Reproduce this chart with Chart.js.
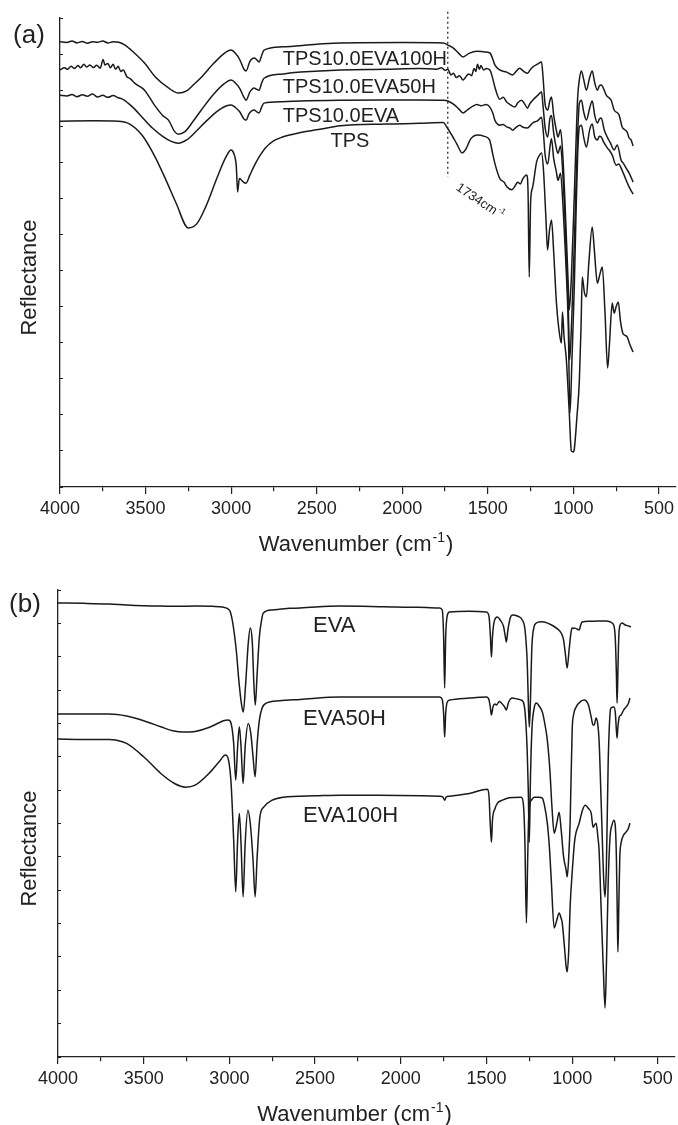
<!DOCTYPE html>
<html>
<head>
<meta charset="utf-8">
<script src="https://cdn.jsdelivr.net/npm/chart.js@4.4.1/dist/chart.umd.min.js"></script>
<style>
    html, body { margin: 0; padding: 0; background: #fff; }
    .painel { position: relative; width: 678px; }
    #painel-a { height: 560px; }
    #painel-b { height: 565px; }
</style>
</head>
<body>
<div class="painel" id="painel-a"><canvas id="grafico-a"></canvas></div>
<div class="painel" id="painel-b"><canvas id="grafico-b"></canvas></div>
<script>
// eixo x (numero de onda, cm-1)
const ondaTicks = [4000, 3750, 3500, 3250, 3000, 2750, 2500, 2250, 2000, 1750, 1500, 1250, 1000, 750, 500];
const rotulosX = ['4000', '3500', '3000', '2500', '2000', '1500', '1000', '500'];

// painel (a): [numero de onda, reflectancia (u.a.)]
const tps10Eva100hA = [
    [4000,12.34],[3960,12.32],[3930,12.36],[3900,12.31],[3870,12.35],[3840,12.30],[3810,12.34],[3780,12.33],[3750,12.36],[3720,12.31],[3690,12.34],[3657,12.33],
    [3620,12.25],[3570,12.05],[3506,11.75],[3440,11.35],[3366,11.06],[3308,10.92],[3260,10.98],[3220,11.15],[3174,11.36],[3100,11.75],[3040,12.02],[3000,12.11],
    [2975,12.02],[2950,11.85],[2925,11.58],[2913,11.53],[2890,11.80],[2866,11.89],[2850,11.84],[2837,11.78],[2820,11.98],[2808,12.11],[2700,12.20],[2500,12.27],
    [2360,12.31],[2000,12.32],[1760,12.31],[1734,12.25],[1703,12.17],[1670,12.02],[1645,11.92],[1610,12.02],[1564,12.08],[1520,12.06],[1488,12.03],[1470,11.85],
    [1459,11.70],[1430,11.56],[1390,11.50],[1355,11.42],[1335,11.52],[1314,11.61],[1290,11.52],[1268,11.47],[1250,11.58],[1238,11.64],[1210,11.72],[1186,11.78],
    [1178,11.40],[1165,10.60],[1150,10.45],[1138,10.70],[1128,10.81],[1115,10.30],[1100,9.90],[1090,9.70],[1075,9.90],[1062,9.20],[1050,8.00],[1040,6.80],
    [1030,5.60],[1024,4.91],[1012,5.80],[998,7.60],[985,9.50],[975,10.80],[965,11.30],[953,11.53],[940,11.30],[924,11.00],[905,11.35],[890,11.53],[875,11.20],
    [860,11.00],[848,11.12],[837,11.14],[820,11.00],[808,10.86],[790,10.78],[779,10.72],[762,10.45],[745,10.38],[733,10.31],[715,9.98],[700,9.90],[686,9.84],
    [675,9.68],[663,9.62],[651,9.45]
];
const tps10Eva50hA = [
    [4000,11.56],[3975,11.62],[3955,11.58],[3935,11.66],[3915,11.60],[3895,11.68],[3880,11.62],[3860,11.72],[3845,11.64],[3825,11.70],[3805,11.63],[3785,11.69],
    [3765,11.61],[3748,11.85],[3738,11.70],[3720,11.74],[3705,11.62],[3690,11.72],[3675,11.58],[3660,11.66],[3645,11.52],[3630,11.56],[3610,11.38],[3590,11.32],
    [3560,11.18],[3506,11.00],[3450,10.60],[3400,10.30],[3366,10.17],[3330,9.85],[3308,9.78],[3270,9.85],[3220,10.15],[3174,10.45],[3100,10.90],[3040,11.18],
    [3000,11.28],[2975,11.20],[2950,11.05],[2925,10.80],[2913,10.72],[2890,10.95],[2866,11.06],[2850,11.02],[2837,11.00],[2820,11.22],[2808,11.33],[2700,11.45],
    [2593,11.50],[2360,11.56],[2100,11.58],[1900,11.60],[1800,11.58],[1770,11.62],[1750,11.55],[1734,11.58],[1715,11.42],[1700,11.47],[1685,11.35],[1665,11.40],
    [1645,11.28],[1630,11.36],[1612,11.45],[1595,11.40],[1580,11.60],[1570,11.52],[1560,11.72],[1550,11.58],[1540,11.68],[1525,11.56],[1510,11.60],[1488,11.56],
    [1470,11.30],[1459,11.09],[1430,10.75],[1410,10.80],[1390,10.67],[1370,10.60],[1343,10.53],[1325,10.65],[1303,10.72],[1285,10.62],[1268,10.50],[1255,10.62],
    [1238,10.72],[1210,10.85],[1186,10.95],[1178,10.60],[1165,9.95],[1150,9.70],[1138,10.20],[1128,10.30],[1115,9.80],[1100,9.40],[1090,9.25],[1075,9.45],
    [1062,8.70],[1050,7.50],[1040,6.20],[1030,5.00],[1022,3.52],[1010,4.60],[995,6.70],[985,8.30],[975,9.80],[965,10.64],[953,10.72],[940,10.40],[924,10.17],
    [905,10.50],[890,10.70],[875,10.30],[860,10.09],[848,10.20],[837,10.23],[820,9.90],[802,9.70],[785,9.55],[762,9.34],[744,9.48],[721,9.06],[705,8.95],
    [692,8.84],[674,8.70],[651,8.45]
];
const tps10EvaA = [
    [4000,10.86],[3960,10.84],[3930,10.88],[3900,10.82],[3870,10.87],[3840,10.83],[3810,10.89],[3780,10.81],[3750,10.86],[3720,10.80],[3690,10.85],[3660,10.79],
    [3630,10.74],[3580,10.55],[3520,10.25],[3460,9.95],[3400,9.72],[3350,9.58],[3308,9.53],[3260,9.62],[3200,9.88],[3150,10.12],[3080,10.42],[3030,10.56],
    [3000,10.59],[2975,10.52],[2950,10.40],[2925,10.20],[2913,10.17],[2895,10.35],[2866,10.45],[2850,10.40],[2837,10.37],[2820,10.55],[2808,10.64],[2700,10.68],
    [2593,10.70],[2360,10.72],[2100,10.73],[1900,10.73],[1760,10.72],[1734,10.70],[1703,10.62],[1670,10.48],[1645,10.37],[1620,10.45],[1590,10.55],[1564,10.60],
    [1540,10.57],[1510,10.60],[1488,10.53],[1470,10.35],[1459,10.17],[1430,10.03],[1410,10.05],[1390,9.98],[1370,9.95],[1355,9.89],[1335,9.97],[1314,10.03],
    [1295,9.97],[1268,9.95],[1250,10.03],[1238,10.09],[1210,10.15],[1186,10.25],[1175,9.80],[1165,9.20],[1150,8.95],[1135,9.50],[1128,9.65],[1115,9.10],
    [1100,8.75],[1090,8.50],[1075,8.70],[1062,7.90],[1050,6.80],[1040,5.80],[1030,4.50],[1020,2.05],[1008,3.60],[995,5.50],[985,7.50],[975,9.20],[965,9.98],
    [953,10.03],[940,9.70],[924,9.42],[905,9.90],[890,10.06],[875,9.70],[860,9.62],[848,9.72],[837,9.70],[822,9.55],[802,9.40],[785,9.30],[773,9.20],
    [750,8.92],[735,8.95],[721,8.84],[692,8.51],[674,8.31],[651,8.12]
];
const tpsA = [
    [4000,10.14],[3800,10.15],[3660,10.14],[3600,10.08],[3520,9.75],[3450,9.20],[3380,8.50],[3320,7.85],[3250,7.18],[3200,7.30],[3150,7.75],[3080,8.60],
    [3030,9.15],[3000,9.34],[2985,9.25],[2970,8.90],[2962,8.18],[2952,8.55],[2940,8.51],[2928,8.45],[2913,8.42],[2890,8.65],[2860,8.95],[2830,9.20],[2800,9.40],
    [2750,9.60],[2700,9.70],[2600,9.82],[2500,9.90],[2360,10.01],[2100,10.06],[1900,10.08],[1760,10.10],[1740,9.98],[1710,9.75],[1680,9.50],[1650,9.26],
    [1630,9.35],[1600,9.65],[1560,9.76],[1520,9.72],[1490,9.62],[1470,9.20],[1455,8.90],[1430,8.55],[1405,8.45],[1390,8.33],[1360,8.24],[1340,8.35],[1326,8.45],
    [1310,8.40],[1295,8.55],[1273,8.65],[1265,8.20],[1258,5.82],[1250,7.90],[1238,8.31],[1215,9.01],[1195,9.22],[1186,9.26],[1175,8.80],[1160,7.40],[1151,6.57],
    [1140,7.10],[1128,7.40],[1115,6.50],[1099,5.10],[1080,4.20],[1070,3.99],[1064,4.85],[1055,4.20],[1041,3.52],[1030,2.60],[1024,2.05],[1012,1.00],[1000,0.97],
    [994,1.08],[980,1.90],[965,2.97],[955,4.50],[948,5.82],[936,5.40],[924,5.27],[910,6.20],[890,7.21],[878,6.60],[860,5.65],[845,5.90],[831,6.10],[815,4.80],
    [800,3.30],[790,3.90],[773,5.10],[762,4.82],[750,5.00],[738,5.13],[725,4.60],[710,4.25],[700,4.21],[686,4.16],[670,3.95],[651,3.74]
];
const linha1734 = [[1734, 13.17], [1734, 8.59]];

// painel (b)
const evaB = [
    [4000,13.61],[3850,13.60],[3700,13.58],[3600,13.55],[3500,13.53],[3400,13.52],[3300,13.51],[3200,13.52],[3100,13.51],[3040,13.49],[3010,13.44],[2995,13.35],
    [2980,13.00],[2960,12.20],[2945,11.30],[2930,10.60],[2919,10.34],[2905,11.20],[2890,12.40],[2878,12.86],[2866,12.40],[2858,11.30],[2849,10.55],[2838,11.50],
    [2825,12.60],[2812,13.10],[2802,13.31],[2750,13.40],[2650,13.45],[2587,13.46],[2355,13.52],[2100,13.50],[1900,13.48],[1773,13.46],[1758,13.40],[1750,12.60],
    [1744,11.06],[1738,12.60],[1728,13.25],[1715,13.34],[1600,13.36],[1500,13.34],[1485,13.20],[1477,12.60],[1471,11.99],[1465,12.60],[1455,13.05],[1436,13.19],
    [1420,13.10],[1400,12.90],[1390,12.60],[1384,12.44],[1375,12.80],[1360,13.18],[1349,13.25],[1320,13.22],[1291,13.10],[1275,12.80],[1262,11.80],[1255,10.50],
    [1250,9.89],[1244,10.60],[1235,12.30],[1222,12.90],[1209,13.01],[1185,13.05],[1163,13.04],[1120,12.95],[1090,12.85],[1064,12.71],[1050,12.50],[1040,12.10],
    [1029,11.66],[1018,12.20],[1006,12.75],[1000,12.86],[980,12.85],[959,12.80],[950,12.95],[942,13.04],[900,13.06],[850,13.07],[802,13.07],[780,13.05],
    [767,13.01],[755,12.90],[748,12.50],[742,11.50],[738,10.61],[733,11.60],[728,12.60],[720,12.95],[709,13.01],[690,12.95],[670,12.92],[657,12.89]
];
const eva50hB = [
    [4000,10.28],[3850,10.28],[3700,10.28],[3600,10.22],[3500,10.08],[3400,9.90],[3330,9.78],[3267,9.74],[3200,9.76],[3120,9.88],[3060,10.02],[3035,10.08],
    [3006,10.10],[2990,10.00],[2975,9.40],[2963,8.30],[2952,9.30],[2942,9.90],[2932,9.30],[2920,8.20],[2908,9.30],[2890,10.00],[2875,9.70],[2862,9.00],[2850,8.40],
    [2838,9.40],[2825,10.10],[2810,10.45],[2785,10.61],[2709,10.68],[2587,10.72],[2355,10.79],[2000,10.79],[1773,10.79],[1758,10.72],[1750,10.30],[1744,9.59],
    [1738,10.30],[1728,10.65],[1715,10.70],[1600,10.76],[1500,10.79],[1485,10.70],[1478,10.50],[1471,10.25],[1462,10.50],[1450,10.58],[1442,10.55],[1425,10.66],
    [1413,10.61],[1395,10.50],[1384,10.40],[1372,10.62],[1349,10.76],[1320,10.73],[1297,10.70],[1280,10.55],[1270,10.00],[1262,9.11],[1256,8.00],[1250,6.44],
    [1244,8.20],[1235,9.80],[1222,10.45],[1209,10.61],[1190,10.50],[1174,10.34],[1160,10.00],[1145,9.50],[1130,8.60],[1118,7.50],[1105,6.71],[1090,7.00],
    [1076,7.34],[1064,6.80],[1050,6.00],[1035,5.60],[1029,5.40],[1020,6.00],[1012,7.00],[1000,9.80],[990,10.30],[977,10.49],[950,10.66],[930,10.70],[905,10.55],
    [889,10.19],[878,9.95],[872,9.95],[860,10.16],[850,9.95],[843,9.50],[830,7.50],[815,5.20],[808,4.80],[800,5.80],[790,8.80],[779,10.30],[773,10.46],
    [756,10.49],[748,10.30],[742,9.80],[738,9.56],[733,9.90],[725,10.20],[715,10.25],[700,10.40],[686,10.49],[672,10.60],[663,10.76]
];
const eva100hB = [
    [4000,9.53],[3850,9.52],[3700,9.52],[3663,9.50],[3600,9.40],[3500,9.00],[3400,8.50],[3320,8.20],[3256,8.09],[3200,8.15],[3120,8.50],[3060,8.85],[3023,9.05],
    [3005,8.90],[2990,8.20],[2975,6.50],[2963,4.95],[2952,6.50],[2942,7.30],[2932,6.40],[2920,4.80],[2908,6.40],[2892,7.40],[2878,7.00],[2862,5.90],[2850,4.80],
    [2838,6.00],[2822,7.20],[2800,7.49],[2750,7.70],[2686,7.79],[2500,7.83],[2355,7.85],[2000,7.84],[1773,7.82],[1755,7.80],[1744,7.70],[1735,7.80],[1715,7.82],
    [1600,7.90],[1494,8.03],[1485,7.80],[1478,7.00],[1471,6.44],[1465,7.10],[1450,7.45],[1436,7.61],[1407,7.70],[1378,7.76],[1340,7.78],[1297,7.79],[1285,7.60],
    [1276,6.50],[1267,4.02],[1260,5.80],[1255,7.00],[1250,7.49],[1235,7.72],[1221,7.79],[1195,7.79],[1174,7.76],[1160,7.50],[1145,7.01],[1133,6.30],[1122,5.31],
    [1105,3.87],[1090,4.10],[1076,4.32],[1064,4.15],[1058,4.02],[1045,3.30],[1035,2.70],[1029,2.55],[1020,3.20],[1012,4.50],[1000,5.52],[985,6.50],[959,7.01],
    [940,7.40],[924,7.55],[905,7.45],[889,7.31],[878,6.89],[870,6.95],[860,7.01],[850,6.60],[843,6.21],[830,4.30],[818,2.60],[808,1.47],[800,2.80],[790,5.20],
    [779,6.59],[768,6.95],[756,7.10],[748,6.90],[742,6.00],[736,4.00],[733,3.15],[728,4.50],[722,6.00],[715,6.41],[700,6.65],[686,6.74],[672,6.85],[663,7.01]
];

const fonte = '"Liberation Sans", Arial, sans-serif';
const corTraco = '#1a1a1a';

function serie(pontos, extra) {
    return Object.assign({
        data: pontos.map(p => ({ x: p[0], y: p[1] })),
        borderColor: corTraco,
        borderWidth: 1.5,
        pointRadius: 0,
        fill: false,
        cubicInterpolationMode: 'monotone'
    }, extra || {});
}

function escreveComExpoente(ctx, base, expoente, tamanho, x, y) {
    ctx.font = tamanho + 'px ' + fonte;
    const wBase = ctx.measureText(base).width;
    ctx.font = Math.round(tamanho * 0.62) + 'px ' + fonte;
    const wExp = ctx.measureText(expoente).width;
    ctx.font = tamanho + 'px ' + fonte;
    const wFim = ctx.measureText(')').width;
    const x0 = x - (wBase + wExp + wFim + 2) / 2;
    ctx.textAlign = 'left';
    ctx.fillText(base, x0, y);
    ctx.font = Math.round(tamanho * 0.62) + 'px ' + fonte;
    ctx.fillText(expoente, x0 + wBase + 1, y - tamanho * 0.42);
    ctx.font = tamanho + 'px ' + fonte;
    ctx.fillText(')', x0 + wBase + wExp + 2, y);
}

const notasPlugin = {
    id: 'notas',
    afterDraw(chart, args, opts) {
        const ctx = chart.ctx, area = chart.chartArea;
        const sx = chart.scales.x, sy = chart.scales.y;
        ctx.save();
        ctx.fillStyle = '#222';

        ctx.font = '26px ' + fonte;
        ctx.textAlign = 'center';
        ctx.textBaseline = 'middle';
        ctx.fillText(opts.painel, area.left + opts.painelDx, area.top + opts.painelDy);

        ctx.save();
        ctx.translate(30, (area.top + area.bottom) / 2 + 25);
        ctx.rotate(-Math.PI / 2);
        ctx.font = '22px ' + fonte;
        ctx.fillText('Reflectance', 0, 0);
        ctx.restore();

        ctx.textBaseline = 'alphabetic';
        escreveComExpoente(ctx, 'Wavenumber (cm', '-1', 22, (area.left + area.right) / 2 - 12, area.bottom + 64);

        ctx.font = opts.tamanho + 'px ' + fonte;
        ctx.textAlign = 'left';
        opts.rotulos.forEach(r => {
            ctx.fillText(r.texto, sx.getPixelForValue(r.onda), sy.getPixelForValue(r.valor));
        });

        if (opts.nota) {
            ctx.save();
            ctx.translate(sx.getPixelForValue(opts.nota.onda), sy.getPixelForValue(opts.nota.valor));
            ctx.rotate(0.59);
            ctx.font = '13px ' + fonte;
            ctx.textAlign = 'left';
            ctx.fillText(opts.nota.texto, 0, 0);
            const w = ctx.measureText(opts.nota.texto).width;
            ctx.font = '8px ' + fonte;
            ctx.fillText('-1', w + 1, -6);
            ctx.restore();
        }
        ctx.restore();
    }
};

function opcoes(cfg) {
    return {
        responsive: true,
        maintainAspectRatio: false,
        animation: false,
        devicePixelRatio: 1,
        layout: { padding: { top: cfg.topo, right: cfg.direita, left: 0, bottom: 0 } },
        plugins: {
            legend: { display: false },
            tooltip: { enabled: false },
            notas: cfg.notas
        },
        scales: {
            x: {
                type: 'linear',
                min: 400,
                max: 4000,
                reverse: true,
                afterBuildTicks: s => { s.ticks = ondaTicks.map(v => ({ value: v })); },
                afterFit: s => { s.height = cfg.alturaX; },
                ticks: {
                    autoSkip: false,
                    maxRotation: 0,
                    padding: 4,
                    color: '#222',
                    font: { size: 18, family: fonte },
                    callback: v => rotulosX.includes(String(v)) ? String(v) : ''
                },
                grid: {
                    drawOnChartArea: false,
                    drawTicks: true,
                    tickLength: 7,
                    color: '#222',
                    lineWidth: 1.2,
                    // marcas menores mais curtas
                    tickBorderDash: c => (c.tick && c.tick.value % 500 !== 0) ? [4, 20] : []
                },
                border: { display: true, color: '#222', width: 1.3 }
            },
            y: {
                type: 'linear',
                min: 0,
                max: cfg.maxY,
                afterFit: s => { s.width = cfg.larguraY; },
                ticks: { display: false, stepSize: 1 },
                grid: { drawOnChartArea: false, drawTicks: true, tickLength: -3, color: '#222', lineWidth: 1 },
                border: { display: true, color: '#222', width: 1.3 }
            }
        }
    };
}

function graficoA() {
    const config = {
        type: 'line',
        data: {
            datasets: [
                serie(tps10Eva100hA),
                serie(tps10Eva50hA),
                serie(tps10EvaA),
                serie(tpsA),
                serie(linha1734, { borderWidth: 1.2, borderDash: [2, 3], cubicInterpolationMode: 'default', tension: 0, clip: false })
            ]
        },
        options: opcoes({
            topo: 18, direita: 1, alturaX: 73, larguraY: 60, maxY: 13,
            notas: {
                painel: '(a)', painelDx: -31, painelDy: 18, tamanho: 20,
                rotulos: [
                    { texto: 'TPS10.0EVA100H', onda: 2698, valor: 11.70 },
                    { texto: 'TPS10.0EVA50H', onda: 2698, valor: 10.92 },
                    { texto: 'TPS10.0EVA', onda: 2698, valor: 10.12 },
                    { texto: 'TPS', onda: 2419, valor: 9.42 }
                ],
                nota: { texto: '1734cm', onda: 1690, valor: 8.25 }
            }
        }),
        plugins: [notasPlugin]
    };
    new Chart(document.getElementById('grafico-a'), config);
}

function graficoB() {
    const config = {
        type: 'line',
        data: {
            datasets: [
                serie(evaB),
                serie(eva50hB),
                serie(eva100hB)
            ]
        },
        options: opcoes({
            topo: 30, direita: 3, alturaX: 68, larguraY: 58, maxY: 14,
            notas: {
                painel: '(b)', painelDx: -33, painelDy: 15, tamanho: 22,
                rotulos: [
                    { texto: 'EVA', onda: 2512, valor: 12.74 },
                    { texto: 'EVA50H', onda: 2570, valor: 9.95 },
                    { texto: 'EVA100H', onda: 2570, valor: 7.04 }
                ]
            }
        }),
        plugins: [notasPlugin]
    };
    new Chart(document.getElementById('grafico-b'), config);
}

document.addEventListener('DOMContentLoaded', () => {
    graficoA();
    graficoB();
});
</script>
</body>
</html>
